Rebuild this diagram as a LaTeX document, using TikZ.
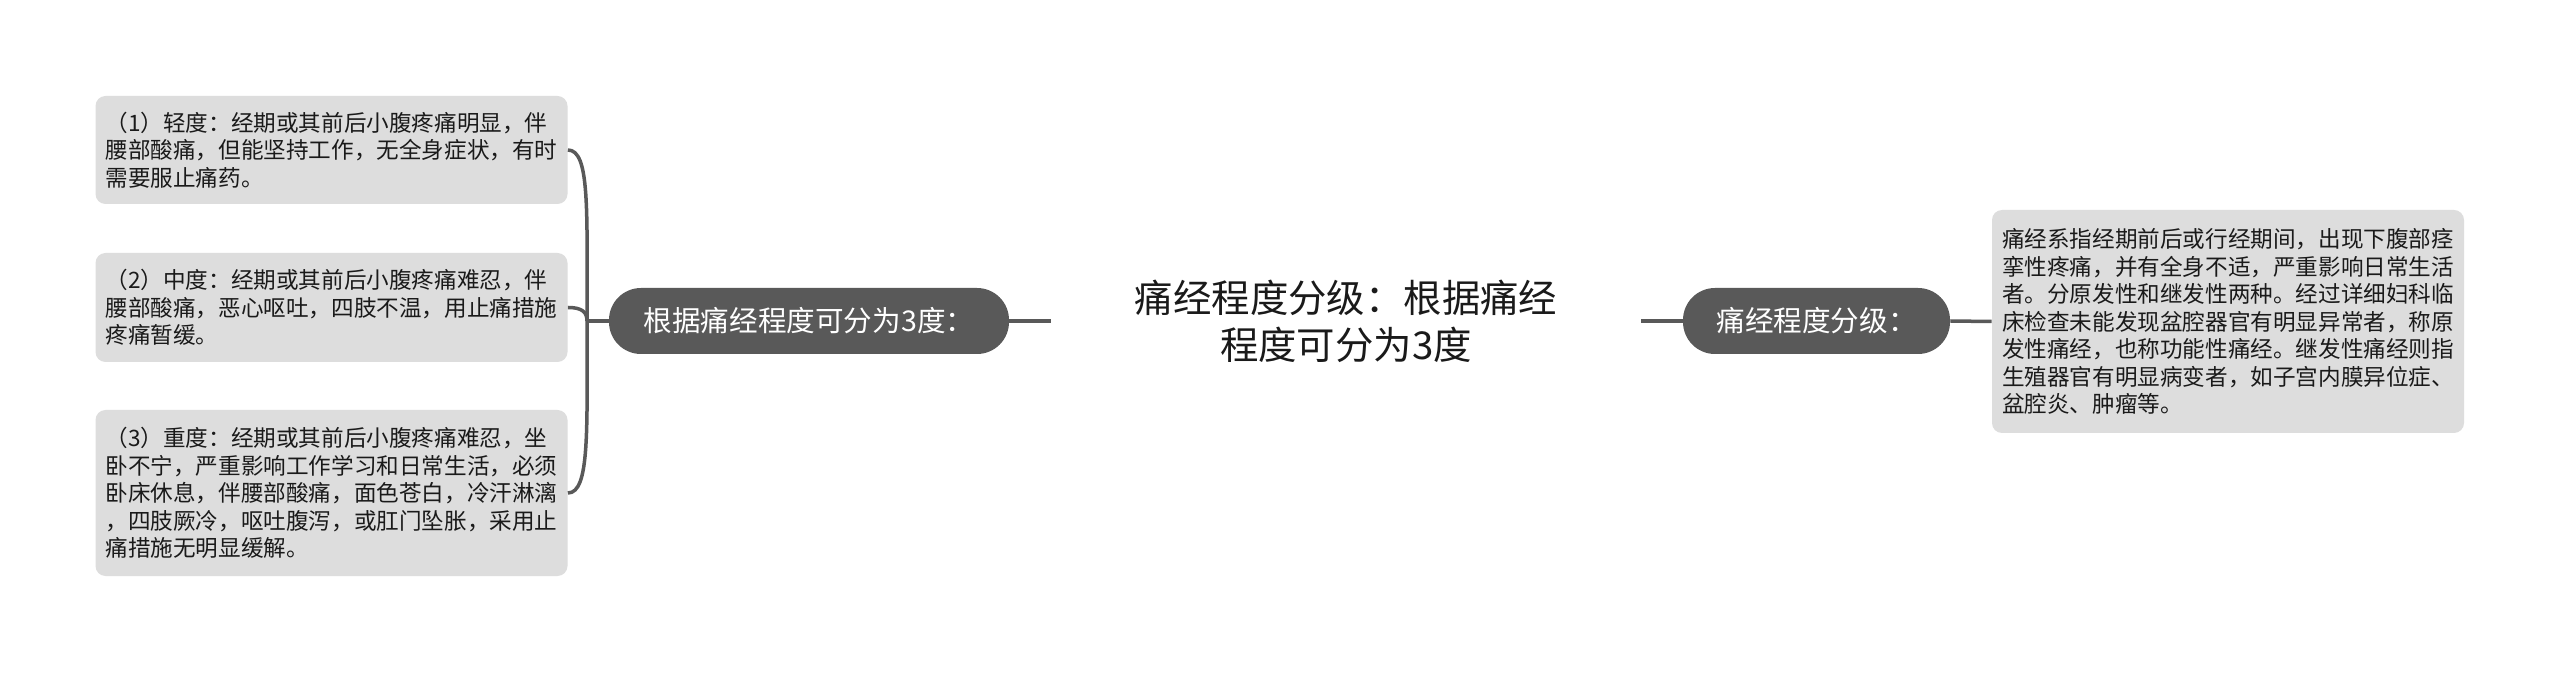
\documentclass[tikz,border=0pt]{standalone}
\usepackage{fontspec}
\newfontfamily\cjk{Noto Sans CJK SC}
\definecolor{leaffill}{HTML}{DDDDDD}
\definecolor{pillfill}{HTML}{595959}
\definecolor{linec}{HTML}{595959}
\definecolor{txt}{HTML}{1A1A1A}
\begin{document}
\begin{tikzpicture}[x=0.5pt,y=-0.5pt,
  leaf/.style={fill=leaffill,rounded corners=5pt,text=txt,align=left,
    font=\cjk\fontsize{11.3}{13.75}\selectfont,inner xsep=5pt,inner ysep=0pt,
    text width=226pt,minimum width=236pt},
  pill/.style={fill=pillfill,rounded corners=16pt,text=white,
    font=\cjk\fontsize{14.3}{16}\selectfont,minimum height=33pt,inner xsep=0pt},
  title/.style={text=txt,align=center,font=\cjk\fontsize{19.2}{23.5}\selectfont},
  conn/.style={draw=linec,line width=1.75pt}]
\fill[white] (0,0) rectangle (2560,673);
\useasboundingbox (0,0) rectangle (2560,673);

\node[leaf,minimum height=54pt] (b1) at (331.5,150) {（1）轻度：经期或其前后小腹疼痛明显，伴\\腰部酸痛，但能坚持工作，无全身症状，有时\\需要服止痛药。};
\node[leaf,minimum height=54.5pt] (b2) at (331.5,307.5) {（2）中度：经期或其前后小腹疼痛难忍，伴\\腰部酸痛，恶心呕吐，四肢不温，用止痛措施\\疼痛暂缓。};
\node[leaf,minimum height=83pt] (b3) at (331.5,493) {（3）重度：经期或其前后小腹疼痛难忍，坐\\卧不宁，严重影响工作学习和日常生活，必须\\卧床休息，伴腰部酸痛，面色苍白，冷汗淋漓\\，四肢厥冷，呕吐腹泻，或肛门坠胀，采用止\\痛措施无明显缓解。};

\node[pill,minimum width=200pt] (lp) at (809,321) {根据痛经程度可分为3度：};
\node[title,minimum width=295pt] (t) at (1346,321) {痛经程度分级：根据痛经\\程度可分为3度};
\node[pill,minimum width=133.5pt] (rp) at (1816.5,321) {痛经程度分级：};
\node[leaf,minimum height=111.5pt] (rb) at (2228,321.5) {痛经系指经期前后或行经期间，出现下腹部痉\\挛性疼痛，并有全身不适，严重影响日常生活\\者。分原发性和继发性两种。经过详细妇科临\\床检查未能发现盆腔器官有明显异常者，称原\\发性痛经，也称功能性痛经。继发性痛经则指\\生殖器官有明显病变者，如子宫内膜异位症、\\盆腔炎、肿瘤等。};

\coordinate (j) at (587,321);
\draw[conn] (lp.west) -- (j);
\draw[conn] (j) .. controls (587,210) and (590,150) .. (b1.east);
\draw[conn] (j) .. controls (587,312) and (582,307.5) .. (b2.east);
\draw[conn] (j) .. controls (587,430) and (590,493) .. (b3.east);
\draw[conn] (lp.east) -- (t.west);
\draw[conn] (t.east) -- (rp.west);
\draw[conn] (rp.east) -- (rb.west);
\end{tikzpicture}
\end{document}
